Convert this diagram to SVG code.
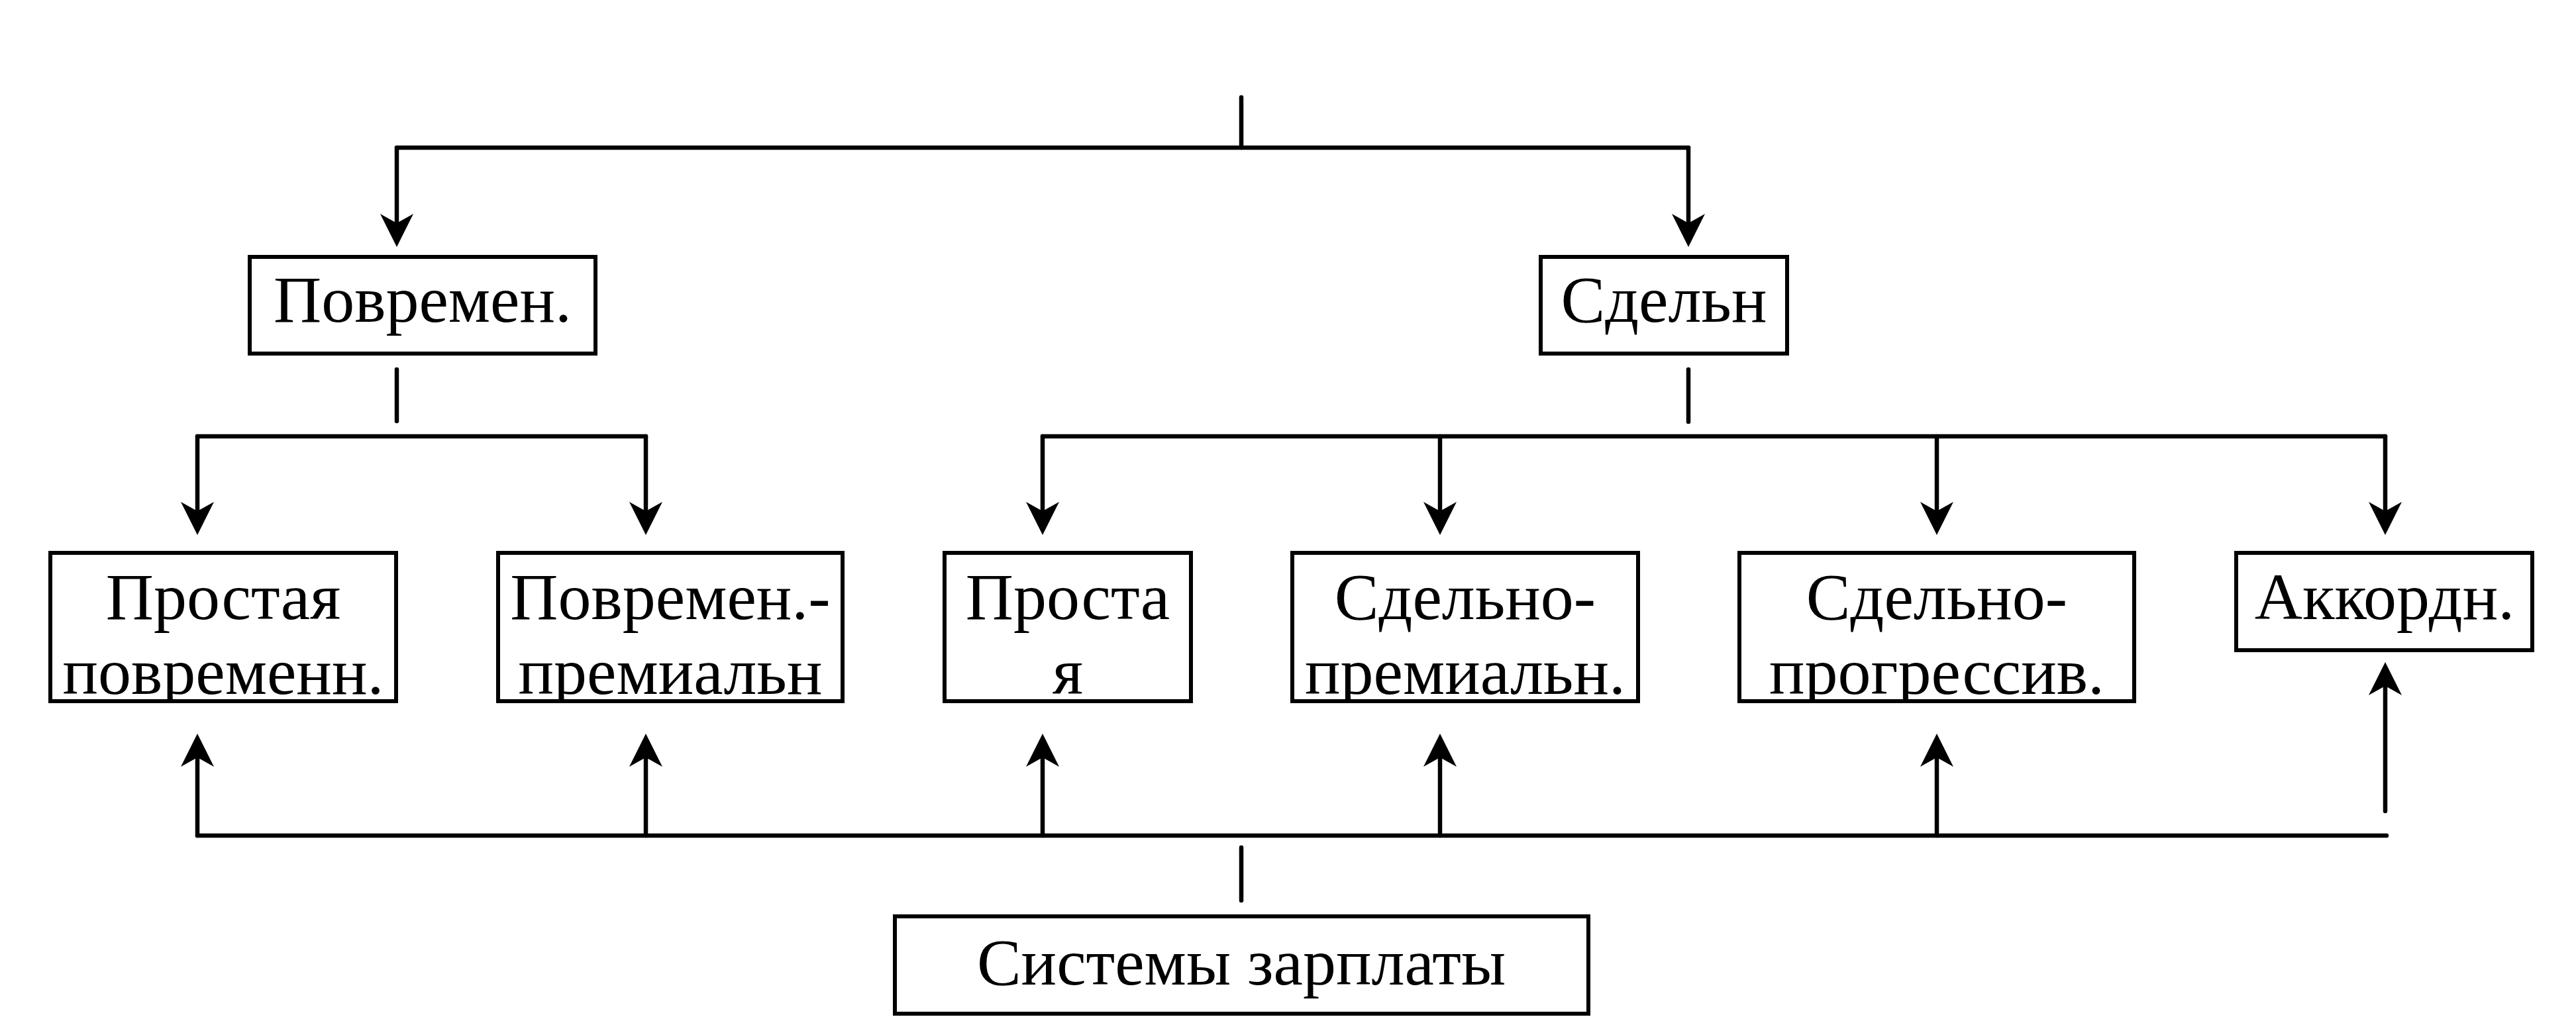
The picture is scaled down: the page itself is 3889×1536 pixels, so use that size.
<svg xmlns="http://www.w3.org/2000/svg" width="3889" height="1536" viewBox="0 0 3889 1536">
<style>
.box{fill:#fff;stroke:#000;stroke-width:6}
.t{font-family:"Liberation Serif","Times New Roman",serif;font-size:100px;fill:#000;text-anchor:middle}
.ln{fill:none;stroke:#000;stroke-width:6.5;stroke-linecap:round;stroke-linejoin:round}
.ar{marker-end:url(#ah)}
</style>
<defs>
<marker id="ah" markerUnits="userSpaceOnUse" markerWidth="50" markerHeight="50" viewBox="0 -25 50 50" refX="14" refY="0" orient="auto">
<path d="M0,-25 L50,0 L0,25 L14,0 Z" fill="#000"/>
</marker>
<clipPath id="c1"><rect x="79" y="838" width="516" height="218"/></clipPath>
<clipPath id="c2"><rect x="755" y="838" width="514" height="218"/></clipPath>
<clipPath id="c3"><rect x="1429" y="838" width="366" height="218"/></clipPath>
<clipPath id="c4"><rect x="1954" y="838" width="516" height="218"/></clipPath>
<clipPath id="c5"><rect x="2629" y="838" width="590" height="218"/></clipPath>
</defs>
<rect width="3889" height="1536" fill="#fff"/>
<g id="connectors">
<path class="ln" d="M1874,147 V223"/>
<path class="ln" d="M599,223 H2549"/>
<path class="ln ar" d="M599,223 V337"/>
<path class="ln ar" d="M2549,223 V337"/>
<path class="ln" d="M599,558 V636"/>
<path class="ln" d="M2549,558 V637"/>
<path class="ln" d="M298,659 H975"/>
<path class="ln" d="M1574,659 H3601"/>
<path class="ln ar" d="M298,659 V772"/>
<path class="ln ar" d="M975,659 V772"/>
<path class="ln ar" d="M1574,659 V772"/>
<path class="ln ar" d="M2174,659 V772"/>
<path class="ln ar" d="M2924,659 V772"/>
<path class="ln ar" d="M3601,659 V772"/>
<path class="ln" d="M298,1262 H3603"/>
<path class="ln ar" d="M298,1262 V1144"/>
<path class="ln ar" d="M975,1262 V1144"/>
<path class="ln ar" d="M1574,1262 V1144"/>
<path class="ln ar" d="M2174,1262 V1144"/>
<path class="ln ar" d="M2924,1262 V1144"/>
<path class="ln ar" d="M3601,1225 V1036"/>
<path class="ln" d="M1874,1280 V1360"/>
</g>
<g id="n-povremen">
<rect class="box" x="377" y="388" width="522" height="146"/>
<text class="t" x="638" y="486">Повремен.</text>
</g>
<g id="n-sdeln">
<rect class="box" x="2326" y="388" width="372" height="146"/>
<text class="t" x="2512" y="486">Сдельн</text>
</g>
<g id="n-prostaya-povr">
<rect class="box" x="76" y="835" width="522" height="224"/>
<g clip-path="url(#c1)">
<text class="t" x="337" y="935">Простая</text>
<text class="t" x="337" y="1048">повременн.</text>
</g>
</g>
<g id="n-povr-prem">
<rect class="box" x="752" y="835" width="520" height="224"/>
<g clip-path="url(#c2)">
<text class="t" x="1012" y="935">Повремен.-</text>
<text class="t" x="1012" y="1048">премиальн</text>
</g>
</g>
<g id="n-prostaya">
<rect class="box" x="1426" y="835" width="372" height="224"/>
<g clip-path="url(#c3)">
<text class="t" x="1612" y="935">Проста</text>
<text class="t" x="1612" y="1048">я</text>
</g>
</g>
<g id="n-sdeln-prem">
<rect class="box" x="1951" y="835" width="522" height="224"/>
<g clip-path="url(#c4)">
<text class="t" x="2212" y="935">Сдельно-</text>
<text class="t" x="2212" y="1048">премиальн.</text>
</g>
</g>
<g id="n-sdeln-progr">
<rect class="box" x="2626" y="835" width="596" height="224"/>
<g clip-path="url(#c5)">
<text class="t" x="2924" y="935">Сдельно-</text>
<text class="t" x="2924" y="1048">прогрессив.</text>
</g>
</g>
<g id="n-akkord">
<rect class="box" x="3376" y="835" width="447" height="147"/>
<text class="t" x="3600" y="935">Аккордн.</text>
</g>
<g id="n-sistemy">
<rect class="box" x="1351" y="1384" width="1047" height="147"/>
<text class="t" x="1874" y="1487">Системы зарплаты</text>
</g>
</svg>
